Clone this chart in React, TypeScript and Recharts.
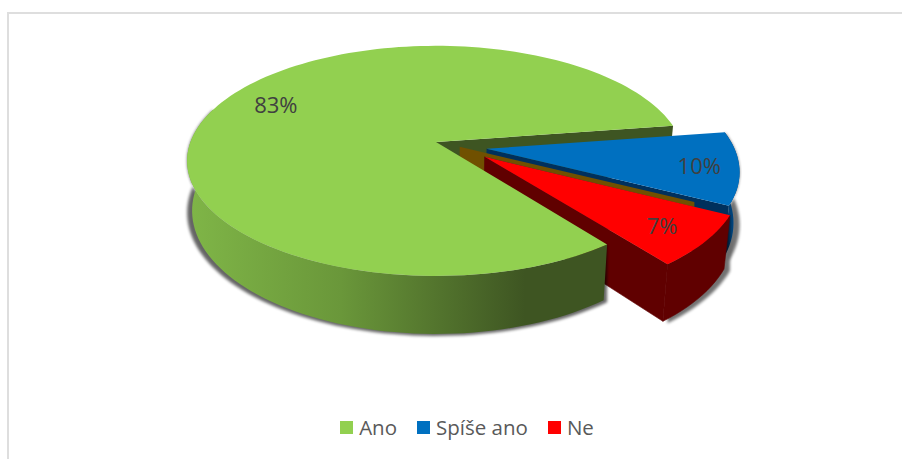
import { Legend, Pie, PieChart } from "recharts";

const categories = ["Ano", "Spíše ano", "Ne"];
const values = [83, 10, 7];
const labels = ["83%", "10%", "7%"];
const colors = ["#92D050", "#0070C0", "#FF0000"];
const wallColors = ["#3E5522", "#00305C", "#600000"];

const data = categories.map((name, i) => ({ name, value: values[i], fill: colors[i] }));

// fake 3d: disc coordinates -> screen, with a bit of perspective
const TILT = 0.456;
const PERSP = 0.164;
const DEPTH = 48.5;
const BOTTOM_SHRINK = 0.98;
const explodeU = [0, 0.204, 0.194];
const explodeV = [0, 0.06, 0.13];
const labelRadius = [0.777, 0.845, 0.82];
const labelShift = [-5.2, 0, 0];

const RAD = Math.PI / 180;

type Ctx = { cx: number; cy: number; r: number; i: number };

function top(c: Ctx, angle: number, radius: number) {
  const u = explodeU[c.i] + radius * Math.cos(angle * RAD);
  const v = explodeV[c.i] - radius * Math.sin(angle * RAD);
  const s = 1 / (1 - PERSP * v);
  return { x: c.cx + c.r * u * s, y: c.cy + c.r * TILT * v * s, s };
}

function bottom(c: Ctx, angle: number, radius: number, shrink = BOTTOM_SHRINK, extra = 0) {
  const p = top(c, angle, radius);
  return { x: c.cx + (p.x - c.cx) * shrink, y: p.y + DEPTH * p.s + extra };
}

function arc(from: number, to: number) {
  const n = Math.max(2, Math.ceil(Math.abs(to - from) / 2));
  return Array.from({ length: n + 1 }, (_, k) => from + ((to - from) * k) / n);
}

function toPath(pts: { x: number; y: number }[]) {
  return "M" + pts.map((p) => `${p.x.toFixed(2)},${p.y.toFixed(2)}`).join("L") + "Z";
}

function topFace(c: Ctx, a0: number, a1: number) {
  return toPath([top(c, 0, 0), ...arc(a0, a1).map((a) => top(c, a, 1))]);
}

function outerWall(c: Ctx, a0: number, a1: number) {
  const as = arc(a0, a1);
  return toPath([...as.map((a) => top(c, a, 1)), ...as.slice().reverse().map((a) => bottom(c, a, 1))]);
}

function outerShadow(c: Ctx, a0: number, a1: number) {
  const as = arc(a0, a1);
  return toPath([...as.map((a) => top(c, a, 1)), ...as.slice().reverse().map((a) => bottom(c, a, 1, 1, 2))]);
}

function radialWall(c: Ctx, a: number) {
  return toPath([top(c, a, 0), top(c, a, 1), bottom(c, a, 1), bottom(c, a, 0)]);
}

function ctxOf(props: any, i: number): Ctx {
  return { cx: props.cx, cy: props.cy, r: props.outerRadius, i };
}

// back layer: wall inside the notch of the big slice, then the two pulled out slices
function backShape(props: any, i: number) {
  const c = ctxOf(props, i);
  const { startAngle: a0, endAngle: a1 } = props;
  if (i === 0) {
    return <path d={radialWall(c, a1)} fill={wallColors[0]} />;
  }
  const start = top(c, a0, 0);
  const edgeEnd = top(c, a0, 1);
  const t = 0.855;
  const p1 = { x: start.x + (edgeEnd.x - start.x) * t, y: start.y + (edgeEnd.y - start.y) * t };
  const sliver = [
    { x: start.x - 25, y: start.y - 10 },
    { x: p1.x, y: p1.y - 5 },
    p1,
    start,
    { x: start.x, y: start.y + DEPTH },
    { x: start.x - 25, y: start.y + DEPTH },
  ];
  return (
    <g>
      <path d={outerShadow(c, a0, a1)} fill="#000" opacity={0.55} filter="url(#wallBlur)" />
      {i === 1 && <path d={radialWall(c, a1)} fill={wallColors[1]} />}
      <path
        d={outerWall(c, a0, a1)}
        fill={i === 1 ? "url(#blueWall)" : wallColors[2]}
        stroke={i === 1 ? "none" : wallColors[2]}
        strokeWidth={0.6}
      />
      {i === 2 && <path d={toPath(sliver)} fill="#705000" />}
      {i === 2 && <path d={radialWall(c, a1)} fill={wallColors[2]} stroke={wallColors[2]} strokeWidth={0.6} />}
      <path d={topFace(c, a0, a1)} fill={colors[i]} />
    </g>
  );
}

// front layer: the big slice sits over the walls of the red one
function frontShape(props: any, i: number) {
  if (i !== 0) return <g />;
  const c = ctxOf(props, i);
  const { startAngle: a0, endAngle: a1 } = props;
  const frontEnd = a0 - 145;
  return (
    <g>
      <path d={outerShadow(c, a0, frontEnd)} fill="#000" opacity={0.6} filter="url(#wallBlur)" />
      <path d={outerWall(c, a0, frontEnd)} fill="url(#greenWall)" />
      <path d={topFace(c, a0, a1)} fill={colors[0]} />
    </g>
  );
}

function renderLabel(props: any) {
  const i = props.index;
  const c = ctxOf(props, i);
  const p = top(c, props.midAngle + labelShift[i], labelRadius[i]);
  return (
    <text
      x={p.x}
      y={p.y}
      textAnchor="middle"
      dominantBaseline="central"
      fontFamily="'Open Sans', sans-serif"
      fontSize={22}
      fill="#404040"
    >
      {labels[i]}
    </text>
  );
}

function ChartLegend() {
  return (
    <div
      style={{
        display: "flex",
        justifyContent: "center",
        gap: 20,
        fontFamily: "'Open Sans', sans-serif",
        fontSize: 20.5,
        lineHeight: "28px",
        color: "#595959",
      }}
    >
      {categories.map((name, i) => (
        <span key={name} style={{ display: "flex", alignItems: "center", gap: 6 }}>
          <span style={{ width: 13, height: 13, background: colors[i] }} />
          {name}
        </span>
      ))}
    </div>
  );
}

const pieAngles = { startAngle: -52.7, endAngle: -412.7 };

export default function App() {
  return (
    <div style={{ position: "absolute", left: 0, top: 0, width: 902, height: 459, background: "#fff", overflow: "hidden" }}>
      <div
        style={{
          position: "absolute",
          left: 7,
          top: 12,
          width: 895,
          height: 447,
          borderTop: "2px solid #dedede",
          borderLeft: "2px solid #dedede",
        }}
      />
      <PieChart width={902} height={459} margin={{ top: 0, right: 0, bottom: 0, left: 0 }} style={{ position: "absolute" }}>
        <defs>
          <filter id="wallBlur" x="-10%" y="-10%" width="120%" height="120%">
            <feGaussianBlur stdDeviation="1.6" />
          </filter>
          <linearGradient id="greenWall" gradientUnits="userSpaceOnUse" x1="190" y1="0" x2="525" y2="0">
            <stop offset="0%" stopColor="#7FB547" />
            <stop offset="45%" stopColor="#6A973A" />
            <stop offset="100%" stopColor="#3E5522" />
          </linearGradient>
          <linearGradient id="blueWall" gradientUnits="userSpaceOnUse" x1="720" y1="0" x2="740" y2="0">
            <stop offset="0%" stopColor="#00305C" />
            <stop offset="100%" stopColor="#00508F" />
          </linearGradient>
        </defs>
        <Pie
          data={data}
          dataKey="value"
          nameKey="name"
          cx={436}
          cy={142}
          outerRadius={245.5}
          {...pieAngles}
          stroke="none"
          shape={backShape}
          isAnimationActive={false}
          legendType="none"
        />
        <Pie
          data={data}
          dataKey="value"
          nameKey="name"
          cx={436}
          cy={142}
          outerRadius={245.5}
          {...pieAngles}
          stroke="none"
          shape={frontShape}
          label={renderLabel}
          labelLine={false}
          isAnimationActive={false}
          legendType="none"
        />
        <Legend
          content={<ChartLegend />}
          wrapperStyle={{ position: "absolute", left: 16, top: 413, width: 902 }}
        />
      </PieChart>
    </div>
  );
}
